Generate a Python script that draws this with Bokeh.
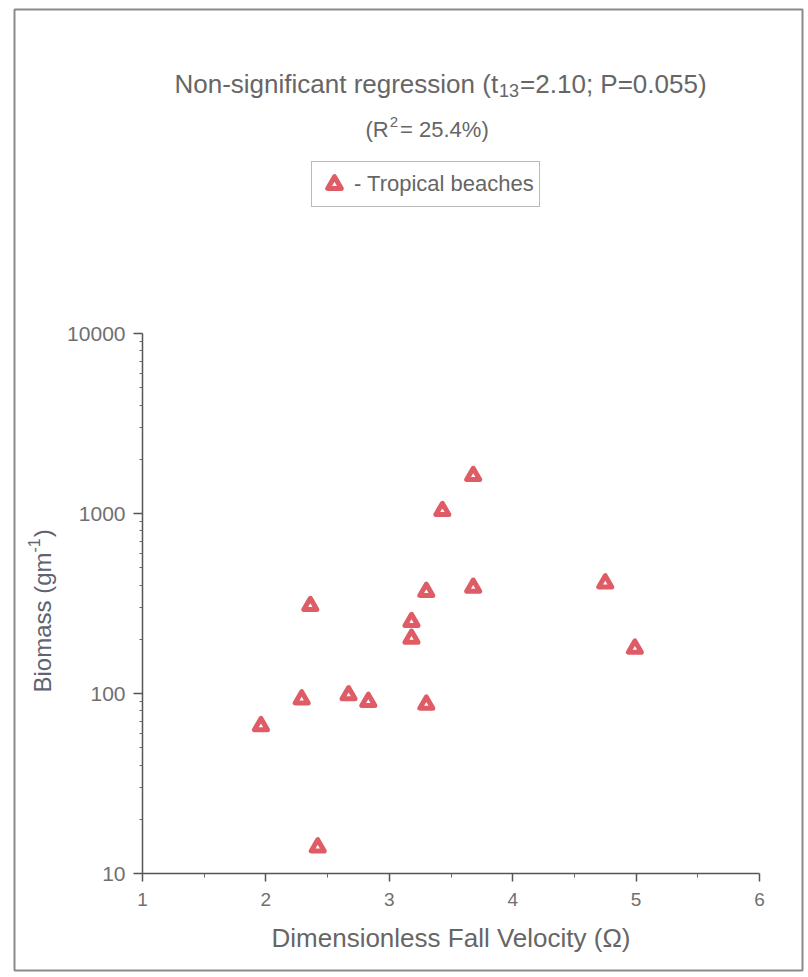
import math
from bokeh.plotting import figure
from bokeh.models import (ColumnDataSource, FixedTicker, Label, Legend, LegendItem,
                          BoxAnnotation, CustomJSTickFormatter)
from bokeh.embed import file_html
from bokeh.resources import INLINE

# Tropical beaches: dimensionless fall velocity vs. macrofauna biomass
omega = [1.96, 2.29, 2.36, 2.42, 2.67, 2.83, 3.18, 3.18, 3.30, 3.30, 3.43, 3.68, 3.68, 4.75, 4.99]
biomass = [66, 93, 307, 14.0, 98, 90, 250, 202, 368, 87, 1035, 1620, 388, 410, 178]

x_ticks = [1, 2, 3, 4, 5, 6]
x_minor = [1.5, 2.5, 3.5, 4.5, 5.5]
y_ticks = [10, 100, 1000, 10000]
y_minor = [m * d for d in (10, 100, 1000) for m in range(2, 10)]

FONT = "Liberation Sans"
TEXT = "#666666"
MARK = "#df5c66"

# Arial/Liberation Sans advance widths (per 1000 em), used to butt text runs together
ADV = {" ": 278, "(": 333, ")": 333, "-": 333, ".": 278, ";": 278, "=": 584, "%": 889,
       "B": 667, "N": 722, "P": 667, "R": 722, "a": 556, "c": 500, "e": 556, "f": 278,
       "g": 556, "i": 222, "m": 833, "n": 556, "o": 556, "r": 333, "s": 500, "t": 278}


def width(s, size):
    return sum(ADV.get(ch, 556) for ch in s) * size / 1000.0


# canvas and the pixel box that the axes span
W, H = 808, 977
AX_L, AX_R, AX_T, AX_B = 142, 759, 333, 873
X0, X1 = x_ticks[0], x_ticks[-1]
D0, D1 = math.log10(y_ticks[0]), math.log10(y_ticks[-1])
px_per_x = (AX_R - AX_L) / (X1 - X0)
px_per_dec = (AX_B - AX_T) / (D1 - D0)

x_range = (X0 - AX_L / px_per_x, X1 + (W - AX_R) / px_per_x)
y_range = (10 ** (D0 - (H - AX_B) / px_per_dec), 10 ** (D1 + AX_T / px_per_dec))

p = figure(width=W, height=H, output_backend="svg", toolbar_location=None,
           y_axis_type="log", x_range=x_range, y_range=y_range,
           min_border=0, background_fill_color="white", border_fill_color="white")
p.outline_line_color = None
p.grid.visible = False

src = ColumnDataSource(dict(x=omega, y=biomass))
pts = p.scatter("x", "y", source=src, marker="triangle", size=13,
                fill_color="white", line_color=MARK, line_width=5, line_join="round")

# axes pinned at the data origin: x axis along y = 10, y axis along x = 1
xa, ya = p.xaxis[0], p.yaxis[0]
xa.fixed_location = y_ticks[0]
ya.fixed_location = X0
xa.bounds = (X0, X1)
ya.bounds = (y_ticks[0], y_ticks[-1])
for ax in (xa, ya):
    ax.axis_line_color = "#555555"
    ax.axis_line_width = 1.5
    ax.major_tick_line_color = "#555555"
    ax.major_tick_line_width = 1.5
    ax.minor_tick_line_color = "#666666"
    ax.major_tick_in = 0
    ax.minor_tick_in = 0
    ax.major_label_text_font = FONT
    ax.major_label_text_color = "#707070"

xa.ticker = FixedTicker(ticks=x_ticks, minor_ticks=x_minor)
xa.major_tick_out = 8
xa.minor_tick_out = 4
xa.major_label_text_font_size = "19px"
xa.major_label_standoff = 11
xa.axis_label = "Dimensionless Fall Velocity (\u03a9)"
xa.axis_label_text_font = FONT
xa.axis_label_text_font_size = "26px"
xa.axis_label_text_font_style = "normal"
xa.axis_label_text_color = TEXT
xa.axis_label_standoff = 14

ya.ticker = FixedTicker(ticks=y_ticks, minor_ticks=y_minor)
ya.formatter = CustomJSTickFormatter(code="return tick.toFixed(0)")
ya.major_tick_out = 9
ya.minor_tick_out = 3
ya.major_label_text_font_size = "21px"
ya.major_label_standoff = 8


def label(x, y, text, size, angle=0.0, color=TEXT):
    # x, y are canvas pixels from the top-left corner
    p.add_layout(Label(x=x, y=H - y, x_units="screen", y_units="screen", text=text,
                       text_font=FONT, text_font_size=f"{size}px", text_color=color,
                       text_align="left", text_baseline="alphabetic", angle=angle))


# y-axis label with superscript, rotated
YC = "#5f6372"
ys, yb = 24, 16
yb0, lx = 692, 42
s1 = "Biomass (gm"
label(lx, yb0, s1, ys, angle=math.pi / 2, color=YC)
label(lx - 9, yb0 - width(s1, ys), "-1", yb, angle=math.pi / 2, color=YC)
label(lx, yb0 - width(s1, ys) - width("-1", yb) - 1, ")", ys, angle=math.pi / 2, color=YC)

# headline with subscript
ts, tsub = 26, 18
t1, t2, t3 = "Non-significant regression (t", "13", "=2.10; P=0.055)"
tw = width(t1, ts) + width(t2, tsub) + width(t3, ts) + 2
tx, ty = 440 - tw / 2, 83
label(tx, ty, t1, ts)
label(tx + width(t1, ts) + 1, ty + 7, t2, tsub)
label(tx + width(t1, ts) + width(t2, tsub) + 2, ty, t3, ts)

# R-squared line with superscript
rs, rsup = 22, 15
r1, r2, r3 = "(R", "2", "= 25.4%)"
rx, ry = 365, 129
label(rx, ry, r1, rs)
label(rx + width(r1, rs) + 1, ry - 8, r2, rsup)
label(rx + width(r1, rs) + width(r2, rsup) + 3, ry, r3, rs)

# boxed legend
legend = Legend(items=[LegendItem(label="- Tropical beaches", renderers=[pts])],
                location=(311, H - 207), orientation="vertical",
                label_text_font=FONT, label_text_font_size="22px", label_text_color=TEXT,
                glyph_width=34, glyph_height=34, label_height=34, label_standoff=3,
                padding=5, margin=0, spacing=0,
                border_line_color="#777777", border_line_width=1.5,
                background_fill_color="white", background_fill_alpha=1.0)
p.add_layout(legend, "center")

# outer frame round the whole figure
p.add_layout(BoxAnnotation(left=14, right=802, top=H - 9, bottom=H - 970,
                           left_units="screen", right_units="screen",
                           top_units="screen", bottom_units="screen",
                           fill_alpha=0, line_color="#8a8a8a", line_alpha=1.0,
                           line_width=2))

open("out.html", "w").write(file_html(p, INLINE))
